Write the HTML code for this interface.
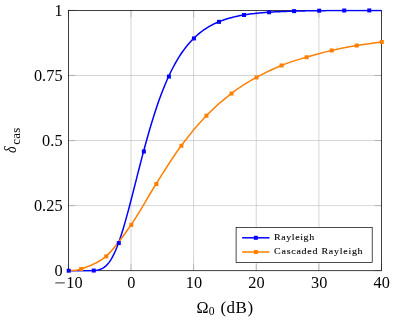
<!DOCTYPE html>
<html><head><meta charset="utf-8"><style>
html,body{margin:0;padding:0;background:#fff;}
svg{display:block;will-change:transform;font-family:"Liberation Serif",serif;}
</style></head><body>
<svg width="395" height="322" viewBox="0 0 395 322">
<rect width="395" height="322" fill="#fff"/>
<g stroke="#bfbfbf" stroke-width="0.66" fill="none"><line x1="131.02" y1="10.40" x2="131.02" y2="270.70"/><line x1="193.64" y1="10.40" x2="193.64" y2="270.70"/><line x1="256.26" y1="10.40" x2="256.26" y2="270.70"/><line x1="318.88" y1="10.40" x2="318.88" y2="270.70"/><line x1="68.40" y1="205.62" x2="381.50" y2="205.62"/><line x1="68.40" y1="140.55" x2="381.50" y2="140.55"/><line x1="68.40" y1="75.47" x2="381.50" y2="75.47"/></g>
<g stroke="#808080" stroke-width="0.42" fill="none"><line x1="68.40" y1="270.70" x2="68.40" y2="263.80"/><line x1="68.40" y1="10.40" x2="68.40" y2="17.30"/><line x1="131.02" y1="270.70" x2="131.02" y2="263.80"/><line x1="131.02" y1="10.40" x2="131.02" y2="17.30"/><line x1="193.64" y1="270.70" x2="193.64" y2="263.80"/><line x1="193.64" y1="10.40" x2="193.64" y2="17.30"/><line x1="256.26" y1="270.70" x2="256.26" y2="263.80"/><line x1="256.26" y1="10.40" x2="256.26" y2="17.30"/><line x1="318.88" y1="270.70" x2="318.88" y2="263.80"/><line x1="318.88" y1="10.40" x2="318.88" y2="17.30"/><line x1="381.50" y1="270.70" x2="381.50" y2="263.80"/><line x1="381.50" y1="10.40" x2="381.50" y2="17.30"/><line x1="68.40" y1="270.70" x2="75.30" y2="270.70"/><line x1="381.50" y1="270.70" x2="374.60" y2="270.70"/><line x1="68.40" y1="205.62" x2="75.30" y2="205.62"/><line x1="381.50" y1="205.62" x2="374.60" y2="205.62"/><line x1="68.40" y1="140.55" x2="75.30" y2="140.55"/><line x1="381.50" y1="140.55" x2="374.60" y2="140.55"/><line x1="68.40" y1="75.47" x2="75.30" y2="75.47"/><line x1="381.50" y1="75.47" x2="374.60" y2="75.47"/><line x1="68.40" y1="10.40" x2="75.30" y2="10.40"/><line x1="381.50" y1="10.40" x2="374.60" y2="10.40"/></g>
<rect x="68.4" y="10.4" width="313.10" height="260.30" fill="none" stroke="#000" stroke-width="0.75"/>
<defs><clipPath id="c"><rect x="68.4" y="9.4" width="313.10" height="262.30"/></clipPath></defs>
<g fill="none" stroke-width="1.5" clip-path="url(#c)">
<path d="M68.40 270.70 L69.97 270.70 L71.53 270.70 L73.10 270.70 L74.66 270.70 L76.23 270.70 L77.79 270.70 L79.36 270.70 L80.92 270.70 L82.49 270.70 L84.06 270.70 L85.62 270.70 L87.19 270.69 L88.75 270.68 L90.32 270.66 L91.88 270.62 L93.45 270.54 L95.01 270.42 L96.58 270.23 L98.14 269.94 L99.71 269.53 L101.28 268.95 L102.84 268.17 L104.41 267.16 L105.97 265.87 L107.54 264.28 L109.10 262.35 L110.67 260.07 L112.23 257.42 L113.80 254.39 L115.37 250.98 L116.93 247.20 L118.50 243.07 L120.06 238.59 L121.63 233.80 L123.19 228.73 L124.76 223.40 L126.32 217.85 L127.89 212.11 L129.45 206.23 L131.02 200.22 L132.59 194.13 L134.15 187.98 L135.72 181.82 L137.28 175.65 L138.85 169.52 L140.41 163.44 L141.98 157.43 L143.54 151.51 L145.11 145.70 L146.68 140.01 L148.24 134.45 L149.81 129.04 L151.37 123.77 L152.94 118.66 L154.50 113.71 L156.07 108.93 L157.63 104.30 L159.20 99.85 L160.76 95.56 L162.33 91.44 L163.90 87.48 L165.46 83.68 L167.03 80.04 L168.59 76.56 L170.16 73.23 L171.72 70.04 L173.29 67.00 L174.85 64.09 L176.42 61.33 L177.99 58.69 L179.55 56.17 L181.12 53.78 L182.68 51.50 L184.25 49.34 L185.81 47.28 L187.38 45.32 L188.94 43.46 L190.51 41.70 L192.07 40.02 L193.64 38.43 L195.21 36.92 L196.77 35.49 L198.34 34.14 L199.90 32.85 L201.47 31.63 L203.03 30.48 L204.60 29.39 L206.16 28.35 L207.73 27.37 L209.30 26.44 L210.86 25.56 L212.43 24.73 L213.99 23.95 L215.56 23.20 L217.12 22.50 L218.69 21.83 L220.25 21.20 L221.82 20.61 L223.38 20.04 L224.95 19.51 L226.52 19.01 L228.08 18.53 L229.65 18.08 L231.21 17.66 L232.78 17.25 L234.34 16.87 L235.91 16.51 L237.47 16.18 L239.04 15.85 L240.61 15.55 L242.17 15.27 L243.74 14.99 L245.30 14.74 L246.87 14.50 L248.43 14.27 L250.00 14.05 L251.56 13.85 L253.13 13.66 L254.69 13.48 L256.26 13.31 L257.83 13.14 L259.39 12.99 L260.96 12.85 L262.52 12.71 L264.09 12.58 L265.65 12.46 L267.22 12.34 L268.78 12.24 L270.35 12.13 L271.91 12.04 L273.48 11.95 L275.05 11.86 L276.61 11.78 L278.18 11.70 L279.74 11.63 L281.31 11.56 L282.87 11.49 L284.44 11.43 L286.00 11.38 L287.57 11.32 L289.14 11.27 L290.70 11.22 L292.27 11.18 L293.83 11.13 L295.40 11.09 L296.96 11.05 L298.53 11.02 L300.09 10.98 L301.66 10.95 L303.23 10.92 L304.79 10.89 L306.36 10.86 L307.92 10.84 L309.49 10.81 L311.05 10.79 L312.62 10.77 L314.18 10.75 L315.75 10.73 L317.31 10.71 L318.88 10.69 L320.45 10.68 L322.01 10.66 L323.58 10.65 L325.14 10.63 L326.71 10.62 L328.27 10.61 L329.84 10.59 L331.40 10.58 L332.97 10.57 L334.54 10.56 L336.10 10.55 L337.67 10.55 L339.23 10.54 L340.80 10.53 L342.36 10.52 L343.93 10.52 L345.49 10.51 L347.06 10.50 L348.62 10.50 L350.19 10.49 L351.76 10.49 L353.32 10.48 L354.89 10.48 L356.45 10.47 L358.02 10.47 L359.58 10.47 L361.15 10.46 L362.71 10.46 L364.28 10.45 L365.85 10.45 L367.41 10.45 L368.98 10.45 L370.54 10.44 L372.11 10.44 L373.67 10.44 L375.24 10.44 L376.80 10.43 L378.37 10.43 L379.93 10.43 L381.50 10.43" stroke="#0000ff" stroke-linejoin="round"/>
<path d="M68.40 270.13 C68.40 270.13 74.04 271.50 80.92 268.98 C87.81 266.46 96.79 264.47 105.97 256.38 C115.15 248.30 121.84 238.15 131.02 224.89 C140.20 211.62 146.89 198.52 156.07 184.02 C165.25 169.52 171.93 158.28 181.12 145.76 C190.30 133.23 196.98 125.26 206.16 115.69 C215.35 106.12 222.03 100.58 231.21 93.57 C240.39 86.55 247.08 82.58 256.26 77.43 C265.44 72.27 272.13 69.15 281.31 65.45 C290.49 61.76 297.17 60.00 306.36 57.25 C315.54 54.51 322.22 52.63 331.40 50.49 C340.59 48.34 347.27 47.10 356.45 45.54 C365.63 43.99 381.50 42.00 381.50 42.00" stroke="#ff8000"/>
</g>
<rect x="66.70" y="268.70" width="4.0" height="4.0" fill="#0000ff"/><rect x="91.75" y="268.54" width="4.0" height="4.0" fill="#0000ff"/><rect x="116.80" y="241.07" width="4.0" height="4.0" fill="#0000ff"/><rect x="141.84" y="149.51" width="4.0" height="4.0" fill="#0000ff"/><rect x="166.89" y="74.56" width="4.0" height="4.0" fill="#0000ff"/><rect x="191.94" y="36.43" width="4.0" height="4.0" fill="#0000ff"/><rect x="216.99" y="19.83" width="4.0" height="4.0" fill="#0000ff"/><rect x="242.04" y="12.99" width="4.0" height="4.0" fill="#0000ff"/><rect x="267.08" y="10.24" width="4.0" height="4.0" fill="#0000ff"/><rect x="292.13" y="9.13" width="4.0" height="4.0" fill="#0000ff"/><rect x="317.18" y="8.69" width="4.0" height="4.0" fill="#0000ff"/><rect x="342.23" y="8.52" width="4.0" height="4.0" fill="#0000ff"/><rect x="367.28" y="8.45" width="4.0" height="4.0" fill="#0000ff"/>
<rect x="79.22" y="266.98" width="4.0" height="4.0" fill="#ff8000"/><rect x="104.27" y="254.38" width="4.0" height="4.0" fill="#ff8000"/><rect x="129.32" y="222.89" width="4.0" height="4.0" fill="#ff8000"/><rect x="154.37" y="182.02" width="4.0" height="4.0" fill="#ff8000"/><rect x="179.42" y="143.76" width="4.0" height="4.0" fill="#ff8000"/><rect x="204.46" y="113.69" width="4.0" height="4.0" fill="#ff8000"/><rect x="229.51" y="91.57" width="4.0" height="4.0" fill="#ff8000"/><rect x="254.56" y="75.43" width="4.0" height="4.0" fill="#ff8000"/><rect x="279.61" y="63.45" width="4.0" height="4.0" fill="#ff8000"/><rect x="304.66" y="55.25" width="4.0" height="4.0" fill="#ff8000"/><rect x="329.70" y="48.49" width="4.0" height="4.0" fill="#ff8000"/><rect x="354.75" y="43.54" width="4.0" height="4.0" fill="#ff8000"/><rect x="379.80" y="40.00" width="4.0" height="4.0" fill="#ff8000"/>
<g font-size="16.3" letter-spacing="0.05" fill="#000"><line x1="55.3" y1="282.9" x2="64.8" y2="282.9" stroke="#000" stroke-width="0.8"/><text x="74.4" y="287.7" text-anchor="middle">10</text><text x="131.32" y="287.7" text-anchor="middle">0</text><text x="193.94" y="287.7" text-anchor="middle">10</text><text x="256.56" y="287.7" text-anchor="middle">20</text><text x="319.18" y="287.7" text-anchor="middle">30</text><text x="381.80" y="287.7" text-anchor="middle">40</text><text x="62.6" y="276.10" text-anchor="end">0</text><text x="62.6" y="211.03" text-anchor="end">0.25</text><text x="62.6" y="145.95" text-anchor="end">0.5</text><text x="62.6" y="80.87" text-anchor="end">0.75</text><text x="62.6" y="15.80" text-anchor="end">1</text></g>
<text transform="translate(196.4,312.5) scale(0.92,1)" font-size="17.6">Ω</text><text x="208.8" y="315.2" font-size="11.6">0</text><text x="220.4" y="312.5" font-size="17" letter-spacing="0.5">(dB)</text>
<g transform="translate(16,153) rotate(-90)"><text x="0" y="0" font-size="15.8" font-style="italic" transform="scale(0.88,1)">δ</text><text x="8.2" y="4.3" font-size="13" letter-spacing="0.25">cas</text></g>
<rect x="236.1" y="227.5" width="136.1" height="35.1" fill="#fff" stroke="#000" stroke-width="0.7"/>
<line x1="242.1" y1="237.8" x2="269.5" y2="237.8" stroke="#0000ff" stroke-width="1.5"/>
<rect x="253.8" y="235.8" width="4" height="4" fill="#0000ff"/>
<line x1="242.1" y1="252" x2="269.5" y2="252" stroke="#ff8000" stroke-width="1.5"/>
<rect x="253.8" y="250.0" width="4" height="4" fill="#ff8000"/>
<g transform="translate(274.1,0) scale(1.16,1)" stroke="#000" stroke-width="0.1"><text x="0" y="239.9" font-size="8.6" textLength="34.5" lengthAdjust="spacing">Rayleigh</text>
<text x="0" y="254.1" font-size="8.6" textLength="76.3" lengthAdjust="spacing">Cascaded Rayleigh</text></g>
</svg>
</body></html>
